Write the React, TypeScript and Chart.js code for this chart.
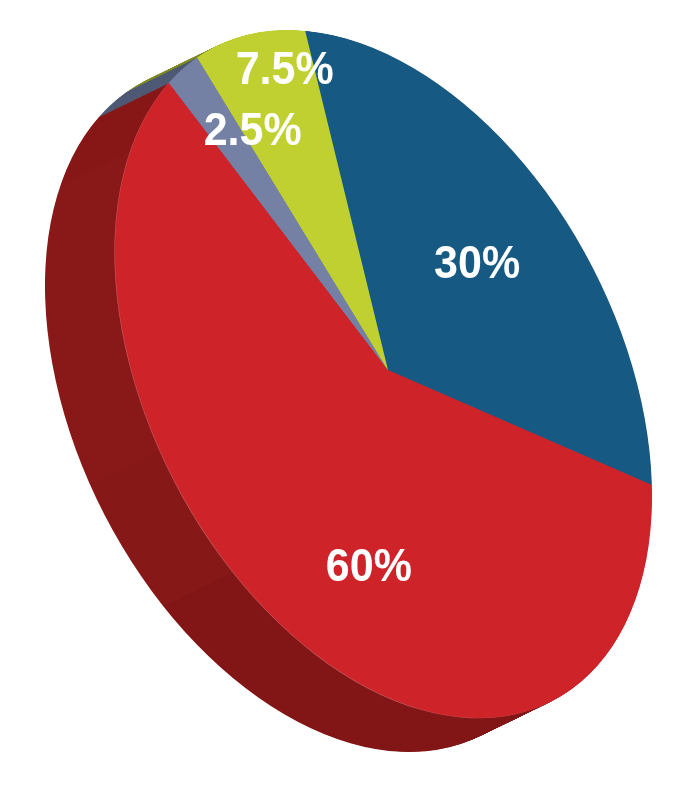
import React, { useEffect, useRef } from "react";
import { Chart, registerables } from "chart.js";

Chart.register(...registerables);

const categories = ["Blue", "Red", "Slate", "Lime"];
const shares = [30, 60, 2.5, 7.5];
const shareLabels = ["30%", "60%", "2.5%", "7.5%"];
const faceColors = ["#165983", "#CF232A", "#7581A4", "#BFD030"];

const APEX = { x: 388, y: 370 };
// wedge directions around the apex; drawn larger and cut by the disc outline
const WEDGE = { a: 250.7, b: 10.5, c: 83, d: 340, grow: 1.12 };
const DISC = { x: 383.5, y: 374, a: 253.7, b: 10, c: 88, d: 343.85 };
const DEPTH = { x: -70, y: 34, steps: 80 };
const LABEL_NUDGE = [[-19, 31], [37, 8], [7, -29], [-5, -63]];

const pie3d = {
  id: "pie3d",
  beforeDatasetsDraw(chart: any) {
    const ctx = chart.ctx;
    const arcs = chart.getDatasetMeta(0).data;
    const { x: cx, y: cy, outerRadius: R } = arcs[0];
    const k = WEDGE.grow / R;
    const place = (ox: number, oy: number) => {
      const base = ctx.getTransform();
      ctx.translate(DISC.x + ox, DISC.y + oy);
      ctx.transform(DISC.a, DISC.b, DISC.c, DISC.d, 0, 0);
      ctx.beginPath();
      ctx.arc(0, 0, 1, 0, Math.PI * 2);
      ctx.setTransform(base);
      ctx.clip();
      ctx.translate(APEX.x + ox, APEX.y + oy);
      ctx.transform(WEDGE.a * k, WEDGE.b * k, WEDGE.c * k, WEDGE.d * k, 0, 0);
      ctx.translate(-cx, -cy);
    };
    const redWall = ctx.createConicGradient(0, cx, cy);
    const stops: [number, string][] = [
      [0, "#821616"], [143, "#821616"], [143, "#871818"], [165, "#871818"],
      [165, "#891818"], [193, "#891818"], [193, "#891818"], [217, "#891818"],
      [217, "#871717"], [360, "#871717"],
    ];
    stops.forEach(([deg, col]) => redWall.addColorStop(deg / 360, col));
    const wall = ["#0f3f5e", redWall, "#4f5a75", "#808b22"];
    const paint = (colors: any[], ox: number, oy: number) => {
      ctx.save();
      place(ox, oy);
      arcs.forEach((arc: any, i: number) => {
        const original = arc.options;
        arc.options = { ...original, backgroundColor: colors[i] };
        arc.draw(ctx);
        arc.options = original;
      });
      ctx.restore();
    };
    for (let s = DEPTH.steps; s >= 1; s--) {
      paint(wall, (DEPTH.x * s) / DEPTH.steps, (DEPTH.y * s) / DEPTH.steps);
    }
    paint(["#165983", "#c0585b", "#7581A4", "#BFD030"], -0.6, 0.3);
    ctx.save();
    place(0, 0);
  },
  afterDatasetsDraw(chart: any) {
    const ctx = chart.ctx;
    ctx.restore();
    const arcs = chart.getDatasetMeta(0).data;
    ctx.save();
    ctx.fillStyle = "#ffffff";
    ctx.font = 'bold 43px "Liberation Sans"';
    ctx.textAlign = "center";
    ctx.textBaseline = "middle";
    arcs.forEach((arc: any, i: number) => {
      const mid = (arc.startAngle + arc.endAngle) / 2;
      const ux = Math.cos(mid) * 0.7;
      const uy = Math.sin(mid) * 0.7;
      const x = APEX.x + 252 * ux + 84 * uy + LABEL_NUDGE[i][0];
      const y = APEX.y + 10.5 * ux + 344 * uy + LABEL_NUDGE[i][1];
      ctx.save();
      ctx.translate(x, y);
      ctx.scale(1, 1.08);
      ctx.fillText(shareLabels[i], 0, 0);
      ctx.restore();
    });
    ctx.restore();
  },
};

export default function App() {
  const ref = useRef<HTMLCanvasElement>(null);
  useEffect(() => {
    const chart = new Chart(ref.current!, {
      type: "pie",
      data: {
        labels: categories,
        datasets: [
          { data: shares, backgroundColor: faceColors, borderWidth: 0, clip: false } as any,
        ],
      },
      options: {
        animation: false,
        responsive: false,
        rotation: 0,
        plugins: { legend: { display: false }, tooltip: { enabled: false } },
      },
      plugins: [pie3d],
    });
    return () => chart.destroy();
  }, []);
  return (
    <canvas
      ref={ref}
      width={697}
      height={800}
      style={{ position: "absolute", left: 0, top: 0, display: "block" }}
    />
  );
}
